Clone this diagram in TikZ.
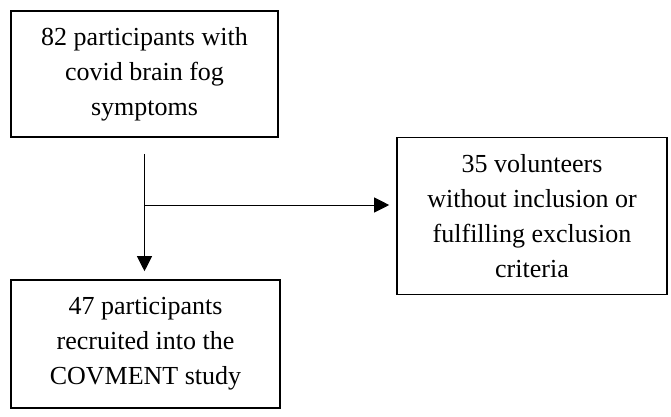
\documentclass[tikz,border=0pt]{standalone}
\usepackage{fontspec}
\setmainfont{Liberation Serif}
\usetikzlibrary{arrows.meta}
\begin{document}
\begin{tikzpicture}[x=1pt,y=1pt,
  box/.style={draw, line width=1.6pt, inner sep=0pt, align=center,
    font=\fontsize{26}{35}\selectfont},
  conn/.style={line width=1pt, -{Triangle[length=15pt,width=15pt]}}]
\useasboundingbox (0,0) rectangle (671,-416);
\node[box, minimum width=267pt, minimum height=126pt] (top) at (144.5,-74)
  {82 participants with\\covid brain fog\\symptoms};
\node[box, minimum width=270pt, minimum height=157pt] (right) at (532,-216)
  {35 volunteers\\without inclusion or\\fulfilling exclusion\\criteria};
\node[box, minimum width=269pt, minimum height=128pt] (bot) at (145.5,-344)
  {47 participants\\recruited into the\\COVMENT study};
\coordinate (start) at ([yshift=-16pt]top.south);
\coordinate (branch) at (top.south |- 0,-205);
\draw[conn] (start) -- ([yshift=8pt]bot.north -| start);
\draw[conn] (branch) -- ([xshift=-7pt]right.west |- branch);
\end{tikzpicture}
\end{document}
